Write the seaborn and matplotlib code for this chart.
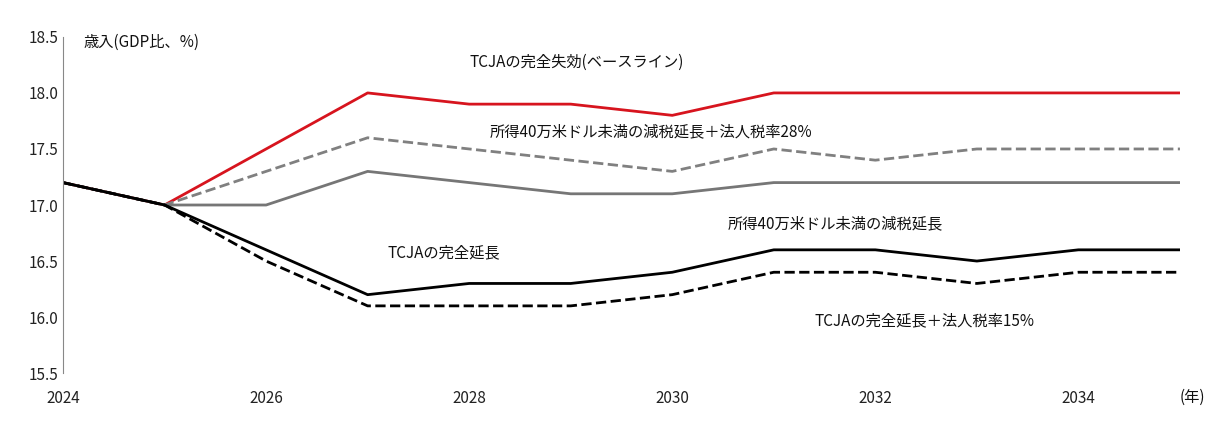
import matplotlib
matplotlib.use("Agg")
import matplotlib.pyplot as plt
import seaborn as sns
import pandas as pd

years = list(range(2024, 2036))
baseline = [17.2, 17.0, 17.5, 18.0, 17.9, 17.9, 17.8, 18.0, 18.0, 18.0, 18.0, 18.0]
under400k_corp28 = [17.2, 17.0, 17.3, 17.6, 17.5, 17.4, 17.3, 17.5, 17.4, 17.5, 17.5, 17.5]
under400k = [17.2, 17.0, 17.0, 17.3, 17.2, 17.1, 17.1, 17.2, 17.2, 17.2, 17.2, 17.2]
full_ext = [17.2, 17.0, 16.6, 16.2, 16.3, 16.3, 16.4, 16.6, 16.6, 16.5, 16.6, 16.6]
full_ext_corp15 = [17.2, 17.0, 16.5, 16.1, 16.1, 16.1, 16.2, 16.4, 16.4, 16.3, 16.4, 16.4]

yticks = [15.5, 16.0, 16.5, 17.0, 17.5, 18.0, 18.5]
xticks = [2024, 2026, 2028, 2030, 2032, 2034]

plt.rcParams["font.family"] = "Noto Sans CJK JP"
fig = plt.figure(figsize=(12.24, 4.24), dpi=100)
ax = fig.add_axes([0.0515, 0.120, 0.9125, 0.793])

series = [
    (baseline, "#d7141e", "-"),
    (under400k_corp28, "#808080", "--"),
    (under400k, "#767676", "-"),
    (full_ext_corp15, "#000000", "--"),
    (full_ext, "#000000", "-"),
]
for vals, c, ls in series:
    df = pd.DataFrame({"year": years, "v": vals})
    sns.lineplot(data=df, x="year", y="v", color=c, linestyle=ls, linewidth=2, ax=ax)

ax.set_xlim(2024, 2035)
ax.set_ylim(15.5, 18.5)
ax.set_yticks(yticks)
ax.set_yticklabels([f"{t:.1f}" for t in yticks])
ax.set_xticks(xticks)
ax.set_xticklabels([str(t) for t in xticks])
ax.tick_params(length=0, labelsize=11, colors="#222222")
ax.tick_params(axis="x", pad=12)
ax.set_xlabel("")
ax.set_ylabel("")
for s in ["top", "right", "bottom"]:
    ax.spines[s].set_visible(False)
ax.spines["left"].set_color("#888888")

kw = dict(fontsize=11, color="#111111")
ax.text(2024.2, 18.45, "歳入(GDP比、%)", va="center", **kw)
ax.text(2028.0, 18.27, "TCJAの完全失効(ベースライン)", va="center", **kw)
ax.text(2028.2, 17.65, "所得40万米ドル未満の減税延長＋法人税率28%", va="center", **kw)
ax.text(2030.55, 16.83, "所得40万米ドル未満の減税延長", va="center", **kw)
ax.text(2027.2, 16.57, "TCJAの完全延長", va="center", **kw)
ax.text(2031.4, 15.97, "TCJAの完全延長＋法人税率15%", va="center", **kw)
ax.text(2035.0, 15.28, "(年)", va="center", ha="left", **kw)

fig.savefig("out.png", dpi=100)
